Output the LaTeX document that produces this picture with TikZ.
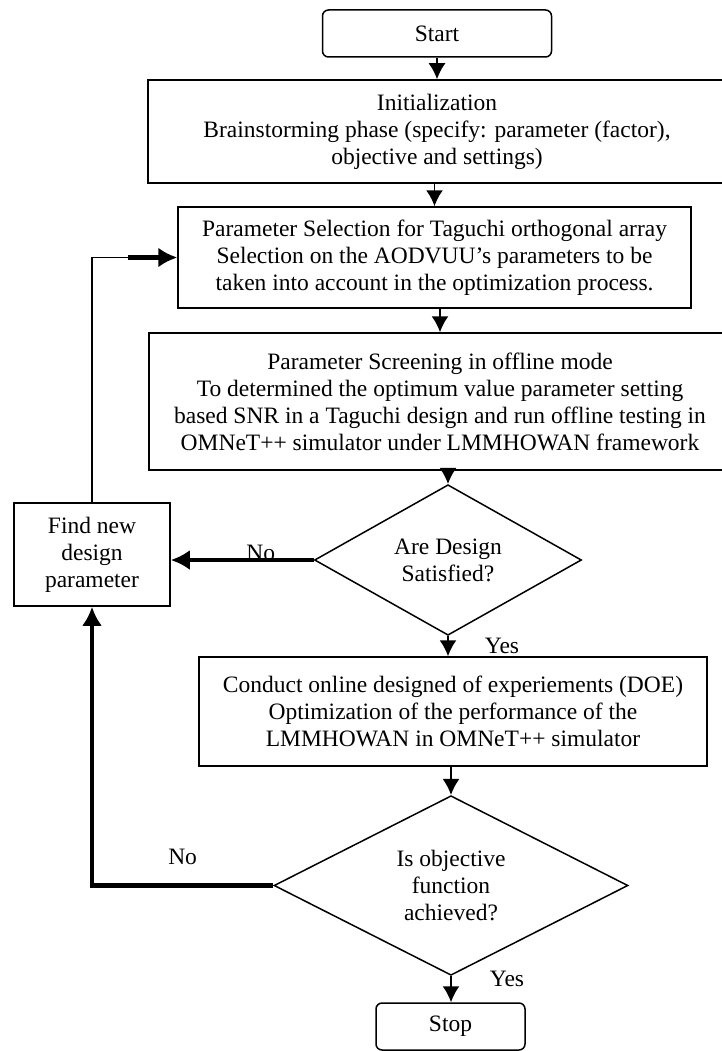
\documentclass[tikz,border=0pt]{standalone}
\usepackage{fontspec}
\setmainfont{Liberation Serif}
\usetikzlibrary{shapes.geometric, arrows.meta}

\begin{document}
\begin{tikzpicture}[x=1pt, y=-1pt, line width=1.5pt,
		font=\fontsize{23.5}{27}\selectfont,
		box/.style={draw, rectangle, align=center, inner sep=0pt},
		term/.style={box, rounded corners=6pt, minimum height=47pt},
		decision/.style={draw, diamond, align=center, inner sep=0pt},
		flow/.style={-{Latex[length=16pt, width=17pt]}, line width=1.8pt},
		bigflow/.style={-{Latex[length=19pt, width=20pt]}, line width=4.5pt},
		lbl/.style={inner sep=0pt}]
			\useasboundingbox (0, 0) rectangle (721, 1051);
			\node[term, minimum width=229pt] (start) at (437, 33.5) {Start};
			\node[box, minimum width=578pt, minimum height=103pt] (init) at (437, 131.5)
				{Initialization\\Brainstorming phase (specify: parameter (factor),\\objective and settings)};
			\node[box, minimum width=513pt, minimum height=101pt] (select) at (434.5, 257.5)
				{Parameter Selection for Taguchi orthogonal array\\Selection on the AODVUU’s parameters to be\\taken into account in the optimization process.};
			\node[box, minimum width=582pt, minimum height=137pt] (screen) at (440, 401.5)
				{Parameter Screening in offline mode\\To determined the optimum value parameter setting\\based SNR in a Taguchi design and run offline testing in\\OMNeT++ simulator under LMMHOWAN framework};
			\node[decision, minimum width=267pt, minimum height=126pt] (design) at (448, 560) {Are Design\\Satisfied?};
			\node[box, minimum width=156pt, minimum height=103pt] (newdes) at (92, 554.5) {Find new\\design\\parameter};
			\node[box, minimum width=508pt, minimum height=109pt] (doe) at (453, 711.5)
				{Conduct online designed of experiements (DOE)\\Optimization of the performance of the\\LMMHOWAN in OMNeT++ simulator};
			\node[decision, minimum width=354pt, minimum height=175pt] (goal) at (451, 885.5) {Is objective\\function\\achieved?};
			\node[term, minimum width=149pt] (stop) at (450.5, 1026.5) {Stop};
			\coordinate (loopin) at (128, 257.5);

			\draw[flow] (start) -- (init);
			\draw[flow] (select.north |- init.south) -- (select.north);
			\draw[flow] (screen.north |- select.south) -- (screen.north);
			\draw[flow] (screen.south -| design.north) -- (design.north);
			\draw[flow] (design.south) -- (design.south |- doe.north) node[lbl, midway, right=36pt] {Yes};
			\draw[flow] (goal.north |- doe.south) -- (goal.north);
			\draw[flow] (goal.south) -- (goal.south |- stop.north) node[lbl, pos=0.1, right=38pt] {Yes};
			\draw[bigflow] (design.west) -- (design.west -| newdes.east) node[lbl, pos=0.37, above=-3pt] {No};
			\draw[bigflow] (goal.west) -| (newdes.south) node[lbl, pos=0.25, above=19pt] {No};
			\draw[line width=1.8pt] (newdes.north) |- (loopin);
			\draw[bigflow] (loopin) -- (select.west);
\end{tikzpicture}
\end{document}
